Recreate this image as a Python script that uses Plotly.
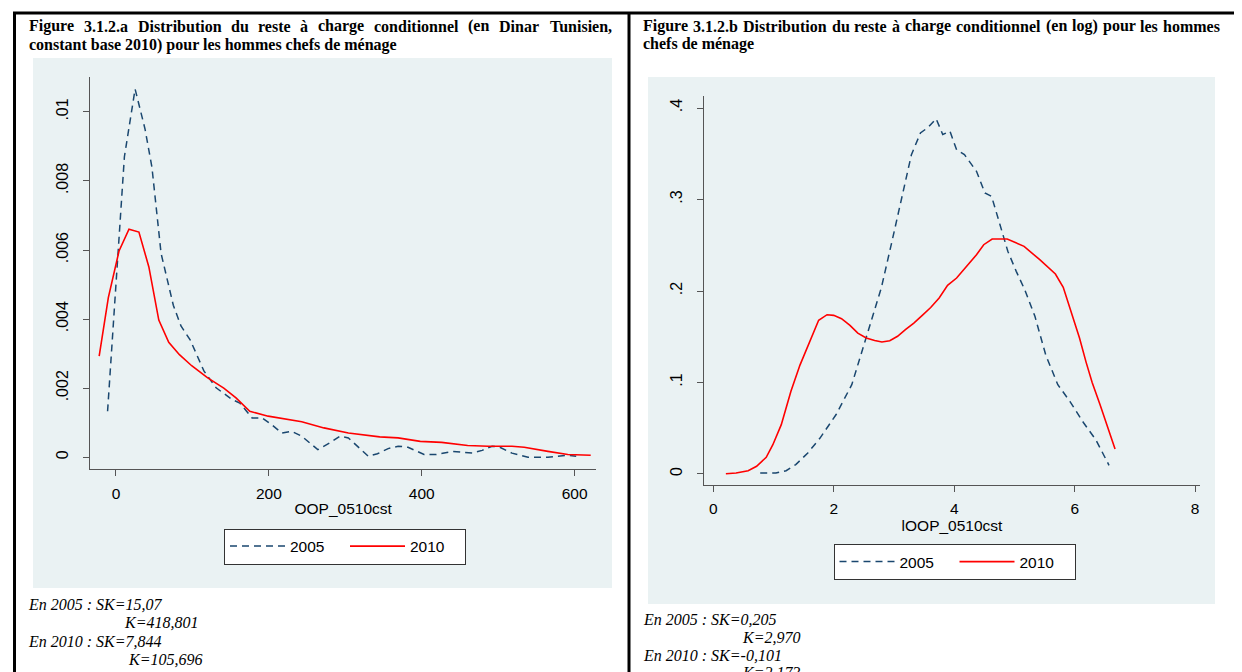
import plotly.graph_objects as go

W, H = 1242, 672

# ---------------- data ----------------
series_names = ["2005", "2010"]

oop_2005_x = [-11, -7, 0, 11, 25, 38, 47, 59, 75, 85,
              97, 107, 115, 131, 152, 162, 178, 191, 205, 217,
              230, 243, 264, 280, 293, 304, 317, 330, 342, 356,
              369, 382, 393, 403, 419, 440, 466, 479, 492, 502,
              518, 539, 565, 591, 602]
oop_2005_y = [0.00133, 0.00273, 0.0050, 0.0087, 0.01066, 0.0095, 0.0084, 0.0059, 0.0044, 0.0038,
              0.0034, 0.0029, 0.0025, 0.00201, 0.00167, 0.00157, 0.00114, 0.00114, 0.00092, 0.00070,
              0.00075, 0.00061, 0.00022, 0.00042, 0.00061, 0.00056, 0.00030, 0.00003, 0.0001, 0.00025,
              0.00032, 0.00029, 0.00018, 0.00008, 0.00008, 0.00017, 0.00012, 0.0002, 0.00032, 0.00029,
              0.00012, 0.0, 0.0, 0.00006, 0.00003]

oop_2010_x = [-22, -10, 4, 17, 30, 43, 56, 69, 83, 99,
              120, 141, 157, 175, 199, 225, 243, 272, 304, 345,
              369, 398, 426, 460, 487, 518, 534, 565, 591, 621]
oop_2010_y = [0.00293, 0.00462, 0.00597, 0.0066, 0.00652, 0.00551, 0.00397, 0.00333, 0.00297, 0.00265,
              0.0023, 0.002, 0.00172, 0.00133, 0.00119, 0.00109, 0.00103, 0.00085, 0.0007, 0.00059,
              0.00056, 0.00046, 0.00043, 0.00034, 0.00032, 0.00032, 0.00029, 0.00017, 0.00008, 0.00006]

loop_2005_x = [0.78, 1.04, 1.21, 1.37, 1.57, 1.77, 2.04, 2.30, 2.45, 2.57,
               2.79, 2.98, 3.17, 3.29, 3.44, 3.57, 3.70, 3.81, 3.93, 4.04,
               4.17, 4.37, 4.51, 4.62, 4.76, 4.89, 5.03, 5.17, 5.34, 5.52,
               5.72, 5.92, 6.15, 6.35, 6.57]
loop_2005_y = [0.001, 0.001, 0.0036, 0.0102, 0.023, 0.039, 0.065, 0.0976, 0.130, 0.156,
               0.2033, 0.258, 0.3144, 0.349, 0.3727, 0.379, 0.3883, 0.371, 0.3745, 0.3544,
               0.349, 0.3308, 0.3071, 0.3035, 0.2725, 0.2434, 0.2215, 0.2015, 0.1723, 0.13,
               0.0976, 0.0794, 0.0557, 0.0375, 0.0095]

loop_2010_x = [0.21, 0.38, 0.58, 0.72, 0.88, 0.99, 1.13, 1.29, 1.44, 1.60,
               1.75, 1.89, 2.00, 2.13, 2.27, 2.40, 2.54, 2.68, 2.80, 2.93,
               3.06, 3.19, 3.33, 3.47, 3.61, 3.75, 3.89, 4.04, 4.22, 4.37,
               4.49, 4.63, 4.88, 5.16, 5.42, 5.68, 5.81, 5.94, 6.08, 6.19,
               6.29, 6.42, 6.55, 6.67]
loop_2010_y = [0.0003, 0.0011, 0.0036, 0.0084, 0.0183, 0.032, 0.0539, 0.0904, 0.119, 0.145,
               0.168, 0.1741, 0.1734, 0.1697, 0.1625, 0.154, 0.1486, 0.146, 0.1443, 0.1457,
               0.1505, 0.1577, 0.165, 0.1734, 0.182, 0.1923, 0.2062, 0.2142, 0.228, 0.2397,
               0.2506, 0.2568, 0.2568, 0.2488, 0.2342, 0.2186, 0.204, 0.1778, 0.1486, 0.122,
               0.10, 0.076, 0.050, 0.0273]

left_xticks = [0, 200, 400, 600]
left_yticks = [0, 0.002, 0.004, 0.006, 0.008, 0.01]
left_yticklabels = ["0", ".002", ".004", ".006", ".008", ".01"]
right_xticks = [0, 2, 4, 6, 8]
right_yticks = [0, 0.1, 0.2, 0.3, 0.4]
right_yticklabels = ["0", ".1", ".2", ".3", ".4"]

left_xtitle = "OOP_0510cst"
right_xtitle = "lOOP_0510cst"

left_title_l1 = "Figure 3.1.2.a Distribution du reste à charge conditionnel (en Dinar Tunisien,"
left_title_l2 = "constant base 2010) pour les hommes chefs de ménage"
right_title_l1 = "Figure 3.1.2.b Distribution du reste à charge conditionnel (en log) pour les hommes"
right_title_l2 = "chefs de ménage"

left_notes = ["En 2005 : SK=15,07", "K=418,801", "En 2010 : SK=7,844", "K=105,696"]
right_notes = ["En 2005 : SK=0,205", "K=2,970", "En 2010 : SK=-0,101", "K=2,173"]

# ---------------- styling ----------------
NAVY = "#1A476F"
RED = "#FF0000"
BG = "#EAF2F3"
AXC = "#555555"
SANS = "Liberation Sans, Arial, sans-serif"
SERIF = "Liberation Serif, Times New Roman, serif"
FS = 15.5


def px(x):
    return x / W


def py(y):
    return 1 - y / H


fig = go.Figure()

fig.add_trace(go.Scatter(x=oop_2005_x, y=oop_2005_y, mode="lines", name=series_names[0],
                         line=dict(color=NAVY, width=1.5, dash="7px,5px"),
                         xaxis="x", yaxis="y", legend="legend"))
fig.add_trace(go.Scatter(x=oop_2010_x, y=oop_2010_y, mode="lines", name=series_names[1],
                         line=dict(color=RED, width=1.6),
                         xaxis="x", yaxis="y", legend="legend"))
fig.add_trace(go.Scatter(x=loop_2005_x, y=loop_2005_y, mode="lines", name=series_names[0],
                         line=dict(color=NAVY, width=1.5, dash="7px,5px"),
                         xaxis="x2", yaxis="y2", legend="legend2"))
fig.add_trace(go.Scatter(x=loop_2010_x, y=loop_2010_y, mode="lines", name=series_names[1],
                         line=dict(color=RED, width=1.6),
                         xaxis="x2", yaxis="y2", legend="legend2"))

xcommon = dict(showline=True, linecolor=AXC, linewidth=1, ticks="outside", ticklen=6,
               tickcolor=AXC, showgrid=False, zeroline=False, ticklabelstandoff=4,
               tickfont=dict(family=SANS, size=FS, color="black"))
ycommon = dict(showline=True, linecolor=AXC, linewidth=1, ticks="outside", ticklen=6,
               tickcolor=AXC, showgrid=True, gridcolor=BG, gridwidth=1.5, zeroline=False,
               tickangle=-90, ticklabelstandoff=9,
               tickfont=dict(family=SANS, size=16, color="black"))

legcommon = dict(orientation="h", xanchor="center", yanchor="middle", bgcolor="white",
                 bordercolor="#333333", borderwidth=1, itemwidth=55, entrywidth=50,
                 font=dict(family=SANS, size=FS, color="black"))

fig.update_layout(
    width=W, height=H, margin=dict(l=0, r=0, t=0, b=0),
    paper_bgcolor="white", plot_bgcolor="white",
    xaxis=dict(domain=[px(82.3), px(588)], range=[-33.6, 627.9], anchor="y",
               tickvals=left_xticks,
               title=dict(text=left_xtitle, font=dict(family=SANS, size=FS, color="black"), standoff=2),
               **xcommon),
    yaxis=dict(domain=[py(461), py(69.3)], range=[-0.00034, 0.011], anchor="x",
               tickvals=left_yticks, ticktext=left_yticklabels, **ycommon),
    xaxis2=dict(domain=[px(696), px(1192)], range=[-0.153, 8.08], anchor="y2",
                tickvals=right_xticks,
                title=dict(text=right_xtitle, font=dict(family=SANS, size=FS, color="black"), standoff=2),
                **xcommon),
    yaxis2=dict(domain=[py(476.7), py(88.3)], range=[-0.0117, 0.4128], anchor="x2",
                tickvals=right_yticks, ticktext=right_yticklabels, **ycommon),
    legend=dict(x=px(337), y=py(538.5), **legcommon),
    legend2=dict(x=px(946.5), y=py(554), **legcommon),
    showlegend=True,
)

# ---------------- background panels and table borders ----------------
shapes = [
    dict(type="rect", xref="paper", yref="paper", x0=px(25), x1=px(604), y0=py(580), y1=py(50),
         fillcolor=BG, line=dict(width=0), layer="below"),
    dict(type="rect", xref="paper", yref="paper", x0=px(640), x1=px(1207), y0=py(596), y1=py(69),
         fillcolor=BG, line=dict(width=0), layer="below"),
    dict(type="line", xref="paper", yref="paper", x0=px(5), x1=px(1233), y0=py(5), y1=py(5),
         line=dict(color="black", width=3)),
    dict(type="line", xref="paper", yref="paper", x0=px(6.5), x1=px(6.5), y0=py(4), y1=py(672),
         line=dict(color="black", width=3)),
    dict(type="line", xref="paper", yref="paper", x0=px(621), x1=px(621), y0=py(4), y1=py(672),
         line=dict(color="black", width=3)),
    dict(type="line", xref="paper", yref="paper", x0=px(1231.5), x1=px(1231.5), y0=py(4), y1=py(672),
         line=dict(color="black", width=3)),
]
fig.update_layout(shapes=shapes)

# ---------------- text (titles justified word by word, notes) ----------------
TB = {' ': 250, '(': 333, ')': 333, ',': 250, '.': 250, ':': 333, '-': 333,
      'A': 722, 'B': 667, 'C': 722, 'D': 722, 'E': 667, 'F': 611, 'G': 778, 'H': 778, 'I': 389,
      'K': 778, 'L': 667, 'M': 944, 'N': 722, 'O': 778, 'P': 611, 'R': 722, 'S': 556, 'T': 667,
      'a': 500, 'b': 556, 'c': 444, 'd': 556, 'e': 444, 'f': 333, 'g': 500, 'h': 556, 'i': 278,
      'j': 333, 'k': 556, 'l': 278, 'm': 833, 'n': 556, 'o': 500, 'p': 556, 'q': 556, 'r': 444,
      's': 389, 't': 333, 'u': 556, 'v': 500, 'w': 722, 'x': 500, 'y': 500, 'z': 444,
      'à': 500, 'é': 444}
TSIZE = 16


def wwidth(w, size):
    return sum(TB.get(c, 500) for c in w) * size / 1000.0


annotations = []


def add_text(text, x, y, size, style="normal", weight="normal", anchor="left"):
    annotations.append(dict(text=text, x=px(x), y=py(y), xref="paper", yref="paper",
                            xanchor=anchor, yanchor="middle", showarrow=False,
                            borderpad=0, borderwidth=0,
                            font=dict(family=SERIF, size=size, color="black",
                                      style=style, weight=weight)))


def justify(line, x0, x1, y, size):
    words = line.split(" ")
    widths = [wwidth(w, size) for w in words]
    gap = (x1 - x0 - sum(widths)) / (len(words) - 1)
    pos = x0
    for i, w in enumerate(words):
        if i == len(words) - 1:
            add_text(w, x1, y, size, weight="bold", anchor="right")
        else:
            add_text(w, pos, y, size, weight="bold")
        pos += widths[i] + gap


justify(left_title_l1, 21, 604, 18, TSIZE)
add_text(left_title_l2, 21, 37, TSIZE, weight="bold")
justify(right_title_l1, 635, 1212, 18, TSIZE)
add_text(right_title_l2, 635, 36, TSIZE, weight="bold")

NSIZE = 16
add_text(left_notes[0], 20, 596, NSIZE, style="italic")
add_text(left_notes[1], 116, 614.5, NSIZE, style="italic")
add_text(left_notes[2], 20, 633, NSIZE, style="italic")
add_text(left_notes[3], 120, 651, NSIZE, style="italic")
add_text(right_notes[0], 635, 611, NSIZE, style="italic")
add_text(right_notes[1], 734, 629.5, NSIZE, style="italic")
add_text(right_notes[2], 635, 647.5, NSIZE, style="italic")
add_text(right_notes[3], 734, 664.5, NSIZE, style="italic")

fig.update_layout(annotations=annotations)

fig.write_html("out.html")
